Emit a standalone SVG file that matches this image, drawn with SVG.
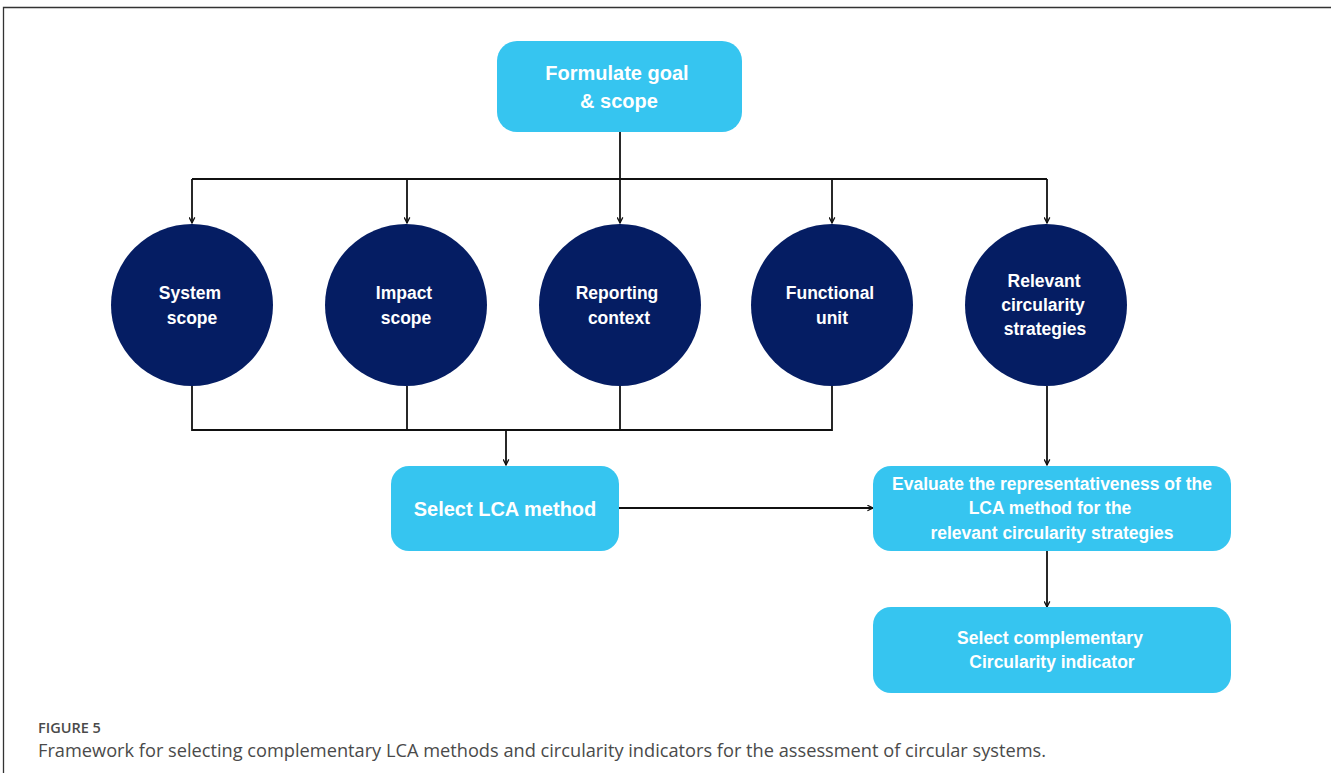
<svg xmlns="http://www.w3.org/2000/svg" width="1331" height="773" viewBox="0 0 1331 773">
  <defs>
    <marker id="arrow" viewBox="0 0 10 10" refX="9" refY="5" markerWidth="7" markerHeight="7" orient="auto" markerUnits="userSpaceOnUse">
      <path d="M1,1 L9,5 L1,9" fill="none" stroke="#111" stroke-width="1.8"/>
    </marker>
    <style>
      .box { fill: #36C5F0; }
      .circle { fill: #051D63; }
      .lbl { font-family: "Liberation Sans", Arial, sans-serif; font-weight: bold; fill: #ffffff; text-anchor: middle; }
      .wire { fill: none; stroke: #111; stroke-width: 1.8; }
      .cap { font-family: "Open Sans", "Liberation Sans", sans-serif; fill: #4a4a4a; }
    </style>
  </defs>

  <rect width="1331" height="773" fill="#ffffff"/>

  <!-- outer frame (top and left rules) -->
  <path d="M3.5,773 V7.5 H1331" fill="none" stroke="#333" stroke-width="1.3"/>

  <!-- connectors -->
  <g id="connectors">
    <path class="wire" d="M620,132 V179"/>
    <path class="wire" d="M192,179 H1047"/>
    <path class="wire" d="M192,179 V223" marker-end="url(#arrow)"/>
    <path class="wire" d="M407,179 V223" marker-end="url(#arrow)"/>
    <path class="wire" d="M620,179 V223" marker-end="url(#arrow)"/>
    <path class="wire" d="M832,179 V223" marker-end="url(#arrow)"/>
    <path class="wire" d="M1047,179 V223" marker-end="url(#arrow)"/>
    <path class="wire" d="M192,386 V430 H832 V386"/>
    <path class="wire" d="M407,386 V430"/>
    <path class="wire" d="M620,386 V430"/>
    <path class="wire" d="M506,430 V465" marker-end="url(#arrow)"/>
    <path class="wire" d="M619,508 H873" marker-end="url(#arrow)"/>
    <path class="wire" d="M1047,386 V465" marker-end="url(#arrow)"/>
    <path class="wire" d="M1047,551 V607" marker-end="url(#arrow)"/>
  </g>

  <g id="goal">
    <rect class="box" x="497" y="41" width="245" height="91" rx="20"/>
    <text class="lbl" x="617" y="80" font-size="20">Formulate goal</text>
    <text class="lbl" x="619" y="108" font-size="20">&amp; scope</text>
  </g>

  <g id="system-scope">
    <circle class="circle" cx="192" cy="305" r="81"/>
    <text class="lbl" x="190" y="299" font-size="17.5">System</text>
    <text class="lbl" x="192" y="324" font-size="17.5">scope</text>
  </g>

  <g id="impact-scope">
    <circle class="circle" cx="406" cy="305" r="81"/>
    <text class="lbl" x="404" y="299" font-size="17.5">Impact</text>
    <text class="lbl" x="406" y="324" font-size="17.5">scope</text>
  </g>

  <g id="reporting-context">
    <circle class="circle" cx="620" cy="305" r="81"/>
    <text class="lbl" x="617" y="299" font-size="17.5">Reporting</text>
    <text class="lbl" x="619" y="324" font-size="17.5">context</text>
  </g>

  <g id="functional-unit">
    <circle class="circle" cx="832" cy="305" r="81"/>
    <text class="lbl" x="830" y="299" font-size="17.5">Functional</text>
    <text class="lbl" x="832" y="324" font-size="17.5">unit</text>
  </g>

  <g id="circularity-strategies">
    <circle class="circle" cx="1046" cy="305" r="81"/>
    <text class="lbl" x="1044" y="287" font-size="17.5">Relevant</text>
    <text class="lbl" x="1043" y="311" font-size="17.5">circularity</text>
    <text class="lbl" x="1045" y="335" font-size="17.5">strategies</text>
  </g>

  <g id="select-lca">
    <rect class="box" x="391" y="466" width="228" height="85" rx="18"/>
    <text class="lbl" x="505" y="516" font-size="20">Select LCA method</text>
  </g>

  <g id="evaluate">
    <rect class="box" x="873" y="466" width="358" height="85" rx="18"/>
    <text class="lbl" x="1052" y="490" font-size="17.5">Evaluate the representativeness of the</text>
    <text class="lbl" x="1050" y="514" font-size="17.5">LCA method for the</text>
    <text class="lbl" x="1052" y="539" font-size="17.5">relevant circularity strategies</text>
  </g>

  <g id="select-indicator">
    <rect class="box" x="873" y="607" width="358" height="86" rx="18"/>
    <text class="lbl" x="1050" y="644" font-size="17.5">Select complementary</text>
    <text class="lbl" x="1052" y="668" font-size="17.5">Circularity indicator</text>
  </g>

  <!-- caption -->
  <text class="cap" x="38" y="733" font-size="14.5" font-weight="600">FIGURE 5</text>
  <text class="cap" x="38" y="757" font-size="18" textLength="1008" lengthAdjust="spacingAndGlyphs">Framework for selecting complementary LCA methods and circularity indicators for the assessment of circular systems.</text>
</svg>
